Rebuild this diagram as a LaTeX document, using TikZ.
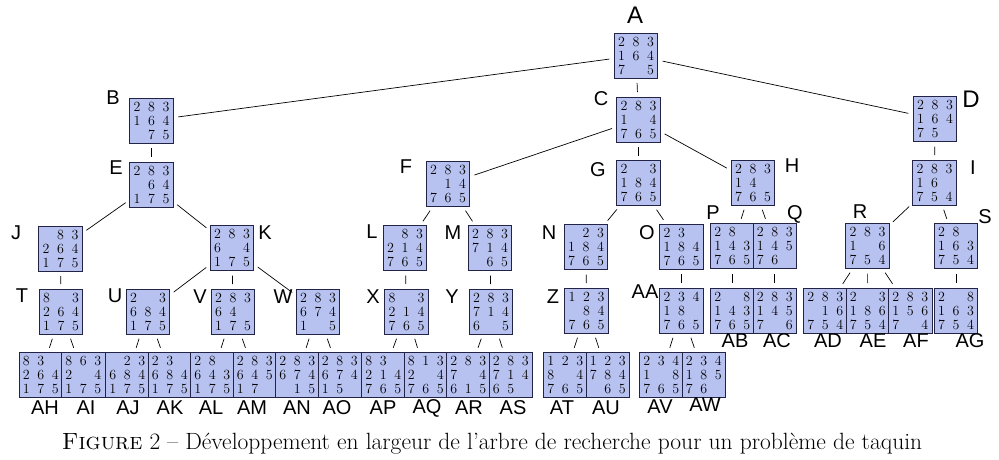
\documentclass[tikz,border=0pt]{standalone}
\usepackage{fontspec}
\newfontfamily\handfont{Liberation Sans}
\definecolor{tqfill}{RGB}{184,194,240}
\definecolor{tqline}{RGB}{35,35,70}
\newcommand\tqcell[1]{\makebox[14.5pt]{\if.#1\else#1\fi}}
\newcommand\tqrowi[3]{\tqcell{#1}\tqcell{#2}\tqcell{#3}}
\newcommand\tqrow[1]{\tqrowi#1}
\newcommand\tqb[3]{\tqrow{#1}\\\tqrow{#2}\\\tqrow{#3}}
\tikzset{
  brd/.style={draw=tqline, line width=0.8pt, fill=tqfill, minimum width=42.5pt,
    minimum height=45pt, inner sep=0pt, outer sep=0pt, align=center,
    font=\fontsize{14}{14}\selectfont},
  lbl/.style={font=\handfont\fontsize{20}{20}\selectfont, inner sep=0pt},
  biglbl/.style={font=\handfont\fontsize{24}{24}\selectfont, inner sep=0pt},
  edge/.style={draw=black, line width=0.7pt, shorten <=5pt, shorten >=5pt}
}
\begin{document}
\begin{tikzpicture}[x=1pt,y=-1pt]
\useasboundingbox (0,0) rectangle (999,459);
% level 0-1
\node[brd] (A) at (636,55.5) {\tqb{283}{164}{7.5}};
\node[brd] (B) at (151.5,120.5) {\tqb{283}{164}{.75}};
\node[brd] (C) at (638.5,119.5) {\tqb{283}{1.4}{765}};
\node[brd] (D) at (935,119) {\tqb{283}{164}{75.}};
% level 2
\node[brd] (E) at (151.5,184.5) {\tqb{283}{.64}{175}};
\node[brd] (F) at (448,184) {\tqb{283}{.14}{765}};
\node[brd] (G) at (638.5,183) {\tqb{2.3}{184}{765}};
\node[brd] (H) at (753,182.5) {\tqb{283}{14.}{765}};
\node[brd] (I) at (934.5,182.5) {\tqb{283}{16.}{754}};
% level 3
\node[brd] (J) at (60.5,248.5) {\tqb{.83}{264}{175}};
\node[brd] (K) at (232,248) {\tqb{283}{6.4}{175}};
\node[brd] (L) at (405,248) {\tqb{.83}{214}{765}};
\node[brd] (M) at (490,248) {\tqb{283}{714}{.65}};
\node[brd] (N) at (586,247) {\tqb{.23}{184}{765}};
\node[brd] (O) at (681.5,246.5) {\tqb{23.}{184}{765}};
\node[brd] (P) at (732.25,246) {\tqb{28.}{143}{765}};
\node[brd] (Q) at (774.75,246) {\tqb{283}{145}{76.}};
\node[brd] (R) at (867.5,246) {\tqb{283}{1.6}{754}};
\node[brd] (S) at (956,246) {\tqb{28.}{163}{754}};
% level 4
\node[brd] (T) at (61,311.5) {\tqb{8.3}{264}{175}};
\node[brd] (U) at (148,311.5) {\tqb{2.3}{684}{175}};
\node[brd] (V) at (233,311.5) {\tqb{283}{64.}{175}};
\node[brd] (W) at (318,311.5) {\tqb{283}{674}{1.5}};
\node[brd] (X) at (406.5,311.5) {\tqb{8.3}{214}{765}};
\node[brd] (Y) at (491,311.5) {\tqb{283}{714}{6.5}};
\node[brd] (Z) at (586.5,310.5) {\tqb{123}{.84}{765}};
\node[brd] (AA) at (681.5,310.5) {\tqb{234}{18.}{765}};
\node[brd] (AB) at (732.25,310.5) {\tqb{2.8}{143}{765}};
\node[brd] (AC) at (774.75,310.5) {\tqb{283}{145}{7.6}};
\node[brd] (AD) at (825.25,310.5) {\tqb{283}{.16}{754}};
\node[brd] (AE) at (867.75,310.5) {\tqb{2.3}{186}{754}};
\node[brd] (AF) at (910.25,310.5) {\tqb{283}{156}{7.4}};
\node[brd] (AG) at (956,310.5) {\tqb{2.8}{163}{754}};
% level 5
\node[brd] (AH) at (40.75,375) {\tqb{83.}{264}{175}};
\node[brd] (AI) at (83.25,375) {\tqb{863}{2.4}{175}};
\node[brd] (AJ) at (127.25,375) {\tqb{.23}{684}{175}};
\node[brd] (AK) at (169.75,375) {\tqb{23.}{684}{175}};
\node[brd] (AL) at (212.25,375) {\tqb{28.}{643}{175}};
\node[brd] (AM) at (254.75,375) {\tqb{283}{645}{17.}};
\node[brd] (AN) at (297.25,375) {\tqb{283}{674}{.15}};
\node[brd] (AO) at (339.75,375) {\tqb{283}{674}{15.}};
\node[brd] (AP) at (383.25,375) {\tqb{83.}{214}{765}};
\node[brd] (AQ) at (425.75,375) {\tqb{813}{2.4}{765}};
\node[brd] (AR) at (468.25,375) {\tqb{283}{7.4}{615}};
\node[brd] (AS) at (510.75,375) {\tqb{283}{714}{65.}};
\node[brd] (AT) at (565.25,375) {\tqb{123}{8.4}{765}};
\node[brd] (AU) at (607.75,375) {\tqb{123}{784}{.65}};
\node[brd] (AV) at (661.25,375) {\tqb{234}{1.8}{765}};
\node[brd] (AW) at (703.75,375) {\tqb{234}{185}{76.}};
% connectors
\foreach \p/\c in {A/B,A/C,A/D,B/E,C/F,C/G,C/H,D/I,E/J,E/K,F/L,F/M,G/N,G/O,H/P,H/Q,I/R,I/S,
  J/T,K/U,K/V,K/W,L/X,M/Y,N/Z,O/AA,P/AB,Q/AC,R/AD,R/AE,R/AF,S/AG,
  T/AH,T/AI,U/AJ,U/AK,V/AL,V/AM,W/AN,W/AO,X/AP,X/AQ,Y/AR,Y/AS,Z/AT,Z/AU,AA/AV,AA/AW}
  \draw[edge] (\p) -- (\c);
% labels
\node[biglbl] (lA) at (635,15) {A};
\node[lbl] (lB) at (113,98) {B};
\node[lbl] (lC) at (601,99) {C};
\node[biglbl] (lD) at (971,99) {D};
\node[lbl] (lE) at (116,168) {E};
\node[lbl] (lF) at (406,167) {F};
\node[lbl] (lG) at (598,170) {G};
\node[lbl] (lH) at (792,166) {H};
\node[lbl] (lI) at (973,168) {I};
\node[lbl] (lJ) at (16,233) {J};
\node[lbl] (lK) at (265,233) {K};
\node[lbl] (lL) at (372,232) {L};
\node[lbl] (lM) at (453,233) {M};
\node[lbl] (lN) at (549,233) {N};
\node[lbl] (lO) at (647,233) {O};
\node[lbl] (lP) at (713,213) {P};
\node[lbl] (lQ) at (795,214) {Q};
\node[lbl] (lR) at (860,212) {R};
\node[lbl] (lS) at (985,217) {S};
\node[lbl] (lT) at (22,296) {T};
\node[lbl] (lU) at (115,296) {U};
\node[lbl] (lV) at (200,297) {V};
\node[lbl] (lW) at (283,297) {W};
\node[lbl] (lX) at (373,297) {X};
\node[lbl] (lY) at (452,297) {Y};
\node[lbl] (lZ) at (553,297) {Z};
\node[lbl] (lAA) at (645,292) {AA};
\node[lbl] (lAB) at (735,341) {AB};
\node[lbl] (lAC) at (777,341) {AC};
\node[lbl] (lAD) at (828,341) {AD};
\node[lbl] (lAE) at (873,341) {AE};
\node[lbl] (lAF) at (916,341) {AF};
\node[lbl] (lAG) at (970,341) {AG};
\node[lbl] (lAH) at (45,408) {AH};
\node[lbl] (lAI) at (86,408) {AI};
\node[lbl] (lAJ) at (128,408) {AJ};
\node[lbl] (lAK) at (170,408) {AK};
\node[lbl] (lAL) at (211,408) {AL};
\node[lbl] (lAM) at (252,408) {AM};
\node[lbl] (lAN) at (297,408) {AN};
\node[lbl] (lAO) at (337,408) {AO};
\node[lbl] (lAP) at (383,408) {AP};
\node[lbl] (lAQ) at (427,408) {AQ};
\node[lbl] (lAR) at (469,408) {AR};
\node[lbl] (lAS) at (513,408) {AS};
\node[lbl] (lAT) at (562,408) {AT};
\node[lbl] (lAU) at (606,408) {AU};
\node[lbl] (lAV) at (660,407) {AV};
\node[lbl] (lAW) at (705,405) {AW};
% caption
\node[font=\fontsize{23.5}{26}\selectfont, anchor=base, inner sep=0pt] (cap) at (492,449)
  {\textsc{Figure} 2 -- Développement en largeur de l'arbre de recherche pour un problème de taquin};
\end{tikzpicture}
\end{document}
